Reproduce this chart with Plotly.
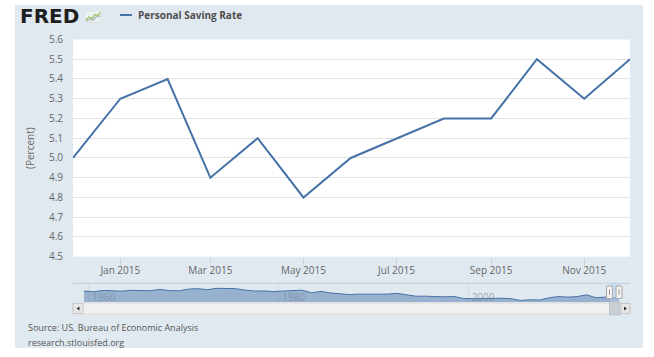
import plotly.graph_objects as go

# ---------------- data ----------------
months = ["2014-12-01", "2015-01-01", "2015-02-01", "2015-03-01", "2015-04-01",
          "2015-05-01", "2015-06-01", "2015-07-01", "2015-08-01", "2015-09-01",
          "2015-10-01", "2015-11-01", "2015-12-01"]
saving_rate = [5.0, 5.3, 5.4, 4.9, 5.1, 4.8, 5.0, 5.1, 5.2, 5.2, 5.5, 5.3, 5.5]

x_tick_vals = ["2015-01-01", "2015-03-01", "2015-05-01", "2015-07-01", "2015-09-01", "2015-11-01"]
x_tick_text = ["Jan 2015", "Mar 2015", "May 2015", "Jul 2015", "Sep 2015", "Nov 2015"]

# navigator overview (annual averages 1959-2014)
nav_years = list(range(1959, 2015))
nav_values = [10.9, 10.3, 11.4, 11.2, 10.8, 11.6, 11.5, 11.2, 12.4, 11.3,
              11.1, 12.6, 13.0, 12.1, 13.3, 13.1, 13.0, 11.7, 10.9, 11.0,
              10.5, 10.9, 11.4, 11.7, 9.4, 10.6, 9.2, 8.7, 7.8, 8.2,
              8.0, 7.8, 8.2, 8.9, 7.4, 6.4, 6.4, 5.9, 5.8, 6.2,
              4.4, 4.2, 4.3, 5.0, 4.6, 4.3, 2.6, 3.3, 3.0, 4.9,
              6.1, 5.6, 6.0, 7.6, 5.0, 5.6]
nav_tick_vals = ["1960-01-01", "1980-01-01", "2000-01-01"]
nav_tick_text = ["1960", "1980", "2000"]

# ---------------- styling ----------------
W, H = 654, 357
PL, PR, PT, PB = 73, 630, 39, 315
PW, PH = PR - PL, PB - PT
PANEL = "#e1e9f0"
LINE = "#4572a7"
FONT = "Open Sans"


def px(x):
    return (x - PL) / PW


def py(y):
    return (PB - y) / PH


nav_dates = [f"{y}-07-01" for y in nav_years] + months
nav_series = nav_values + saving_rate

fig = go.Figure()
fig.add_trace(go.Scatter(
    x=months, y=saving_rate, mode="lines", name="Personal Saving Rate",
    line=dict(color=LINE, width=2), xaxis="x", yaxis="y", showlegend=False))
fig.add_trace(go.Scatter(
    x=nav_dates, y=nav_series, mode="lines", fill="tozeroy",
    fillcolor="rgba(69,114,167,0.47)", line=dict(color=LINE, width=1),
    xaxis="x2", yaxis="y2", showlegend=False, hoverinfo="skip"))

shapes = []
# white outer frame
for (x0, y0, x1, y1) in [(0, 0, W, 5), (0, 0, 15, H), (643, 0, W, H), (0, 348, W, H)]:
    shapes.append(dict(type="rect", xref="paper", yref="paper", x0=px(x0), x1=px(x1),
                       y0=py(y1), y1=py(y0), fillcolor="white", line_width=0, layer="below"))
# navigator background
shapes.append(dict(type="rect", xref="x2 domain", yref="y2 domain", x0=0, x1=1, y0=0, y1=1,
                   fillcolor=PANEL, line_width=0, layer="below"))
# navigator top border
shapes.append(dict(type="line", xref="paper", yref="paper", x0=0, x1=1, y0=py(283.3), y1=py(283.3),
                   line=dict(color="#c4cbd2", width=1)))
# selected range mask
shapes.append(dict(type="rect", xref="x2", yref="y2 domain", x0=months[0], x1=months[-1], y0=0, y1=1,
                   fillcolor="rgba(175,205,240,0.5)", line_width=0))
# scrollbar track
shapes.append(dict(type="rect", xref="paper", yref="paper", x0=px(73), x1=px(630), y0=py(314), y1=py(303),
                   fillcolor="#f0f0f0", line=dict(color="#dcdcdc", width=1)))
# scrollbar thumb
shapes.append(dict(type="rect", xref="paper", yref="paper", x0=px(609.5), x1=px(620), y0=py(315), y1=py(302),
                   fillcolor="#c9ced4", line=dict(color="#c0c4c8", width=1)))
# handles
for hx in (609.5, 619):
    shapes.append(dict(type="rect", xref="paper", yref="paper", x0=px(hx - 3), x1=px(hx + 3),
                       y0=py(298.5), y1=py(286),
                       fillcolor="#f2f2f2", line=dict(color="#a8a8a8", width=1)))
    shapes.append(dict(type="line", xref="paper", yref="paper", x0=px(hx), x1=px(hx),
                       y0=py(295), y1=py(289.5), line=dict(color="#999", width=1)))
# buttons
for (bx0, bx1) in [(73, 83), (621, 630)]:
    shapes.append(dict(type="rect", xref="paper", yref="paper", x0=px(bx0), x1=px(bx1), y0=py(313.5), y1=py(303.5),
                       fillcolor="#e6e6e6", line=dict(color="#c8c8c8", width=1)))
shapes.append(dict(type="path", xref="paper", yref="paper",
                   path=f"M {px(79.5)} {py(306.5)} L {px(79.5)} {py(310.5)} L {px(76.5)} {py(308.5)} Z",
                   fillcolor="#333", line_width=0))
shapes.append(dict(type="path", xref="paper", yref="paper",
                   path=f"M {px(624)} {py(306.5)} L {px(624)} {py(310.5)} L {px(627)} {py(308.5)} Z",
                   fillcolor="#333", line_width=0))
# legend line
shapes.append(dict(type="line", xref="paper", yref="paper", x0=px(120), x1=px(132), y0=py(15), y1=py(15),
                   line=dict(color=LINE, width=2)))
# FRED logo icon
shapes.append(dict(type="rect", xref="paper", yref="paper", x0=px(85), x1=px(101), y0=py(22), y1=py(11),
                   fillcolor="#eef1f2", line=dict(color="#d8dcde", width=0.5)))
pts_g = [(86, 20), (89, 17), (92, 18.5), (95, 14.5), (98, 15.5), (100.5, 12)]
pts_k = [(86, 21), (89.5, 19.5), (93, 20), (96, 17), (100.5, 16)]
for pts, col in ((pts_g, "#8cc05a"), (pts_k, "#a8b0b4")):
    path = "M " + " L ".join(f"{px(a)} {py(b)}" for a, b in pts)
    shapes.append(dict(type="path", xref="paper", yref="paper", path=path,
                       line=dict(color=col, width=1.2)))

annotations = [
    dict(text="<b>FRED</b>", xref="paper", yref="paper", x=px(18), y=py(16), xanchor="left", yanchor="middle",
         showarrow=False, font=dict(family="DejaVu Sans", size=20, color="#1e1e1e")),
    dict(text="<b>Personal Saving Rate</b>", xref="paper", yref="paper", x=px(136), y=py(15),
         xanchor="left", yanchor="middle", showarrow=False,
         font=dict(family=FONT, size=10, color="#4d4d4d")),
    dict(text="(Percent)", xref="paper", yref="paper", x=px(30), y=py(148), textangle=-90,
         xanchor="center", yanchor="middle", showarrow=False,
         font=dict(family=FONT, size=10, color="#666")),
    dict(text="Source: US. Bureau of Economic Analysis", xref="paper", yref="paper", x=px(26), y=py(327),
         xanchor="left", yanchor="middle", showarrow=False, font=dict(family=FONT, size=9, color="#555")),
    dict(text="research.stlouisfed.org", xref="paper", yref="paper", x=px(26), y=py(342),
         xanchor="left", yanchor="middle", showarrow=False, font=dict(family=FONT, size=9, color="#555")),
]

fig.update_layout(
    width=W, height=H,
    margin=dict(l=PL, r=W - PR, t=PT, b=H - PB, autoexpand=False),
    paper_bgcolor=PANEL, plot_bgcolor="white",
    font=dict(family=FONT, size=10, color="#666"),
    showlegend=False,
    xaxis=dict(type="date", range=[months[0], months[-1]], domain=[0, 1], anchor="y",
               tickvals=x_tick_vals, ticktext=x_tick_text, showgrid=False, zeroline=False,
               ticks="outside", ticklen=7, tickcolor="#c8d2dc", tickwidth=1, showline=False,
               ticklabelstandoff=-3,
               tickfont=dict(family=FONT, size=10, color="#666"), fixedrange=True),
    yaxis=dict(range=[4.5, 5.6], dtick=0.1, tickformat=".1f", domain=[py(256.7), py(39.5)], anchor="x",
               showgrid=True, gridcolor="#e3e3e3", gridwidth=1, zeroline=False, showline=False,
               ticks="", ticklabelstandoff=9, tickfont=dict(family=FONT, size=10, color="#666"),
               fixedrange=True),
    xaxis2=dict(type="date", range=["1959-07-01", months[-1]], domain=[px(84), px(619)], anchor="y2",
                tickvals=nav_tick_vals, ticktext=nav_tick_text, ticklabelposition="inside",
                ticklabelshift=15, ticklabelstandoff=-4, ticks="", showgrid=True, gridcolor="#d3dbe4",
                zeroline=False, showline=False,
                tickfont=dict(family=FONT, size=10, color="rgba(125,140,160,0.75)"), fixedrange=True),
    yaxis2=dict(range=[1.3, 17.7], domain=[py(302), py(283.3)], anchor="x2", showgrid=False,
                zeroline=False, showticklabels=False, showline=False, fixedrange=True),
    shapes=shapes,
    annotations=annotations,
)

fig.write_html("out.html", config={"displayModeBar": False},
               post_script="document.body.style.margin='0';document.body.style.overflow='hidden';")
